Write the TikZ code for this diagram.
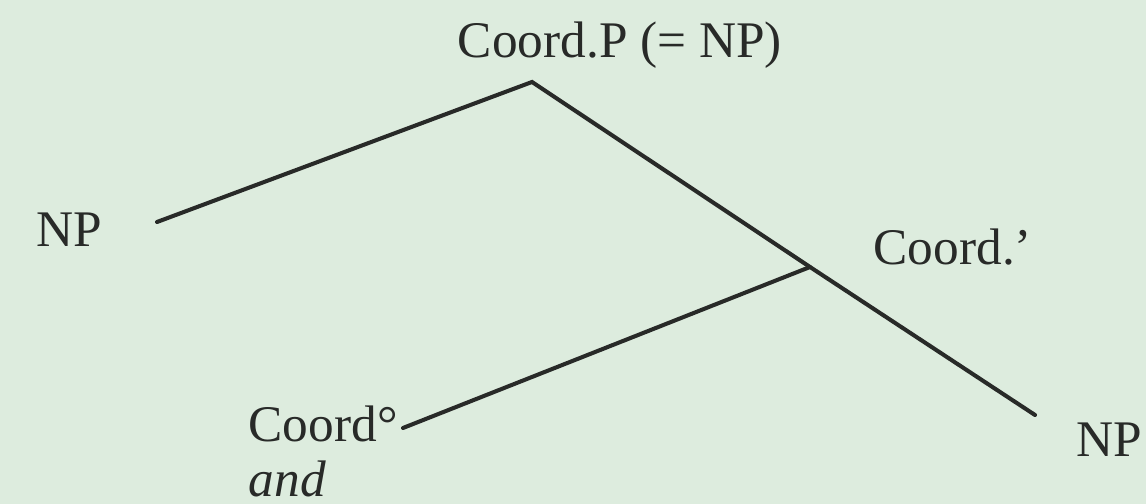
\documentclass[tikz,border=0pt]{standalone}
\usepackage{fontspec}
\setmainfont{Liberation Serif}
\usepackage{xcolor}
\usepackage{tikz}
\usetikzlibrary{positioning}

\definecolor{paper}{RGB}{221,236,222}
\definecolor{ink}{RGB}{40,42,40}

\begin{document}
\begin{tikzpicture}[
    x=0.01cm, y=-0.01cm,
    lbl/.style={inner sep=0pt, text=ink, font=\fontsize{14.6}{17}\selectfont},
    branch/.style={draw=ink, line width=1.15pt, line cap=round, line join=miter}]
  \fill[paper] (0,0) rectangle (1146,504);
  \useasboundingbox (0,0) rectangle (1146,504);
  % branch points
  \coordinate (top) at (532,82);
  \coordinate (mid) at (810,267);
  \coordinate (lend) at (157,222);
  \coordinate (cend) at (403,428);
  \coordinate (rend) at (1035,415);
  % labels
  \node[lbl, anchor=base] (coordP) at (620,58) {Coord.P (= NP)};
  \node[lbl, anchor=base] (npL) at (69,247) {NP};
  \node[lbl, anchor=base west] (coordbar) at (873,265) {Coord.’};
  \node[lbl, anchor=base west] (coordhead) at (248,442) {Coord°};
  \node[lbl, anchor=base west] (andw) at (248,497) {\itshape and};
  \node[lbl, anchor=base] (npR) at (1109,457) {NP};
  % tree
  \draw[branch] (lend) -- (top) -- (mid) -- (rend);
  \draw[branch] (cend) -- (mid);
\end{tikzpicture}
\end{document}
